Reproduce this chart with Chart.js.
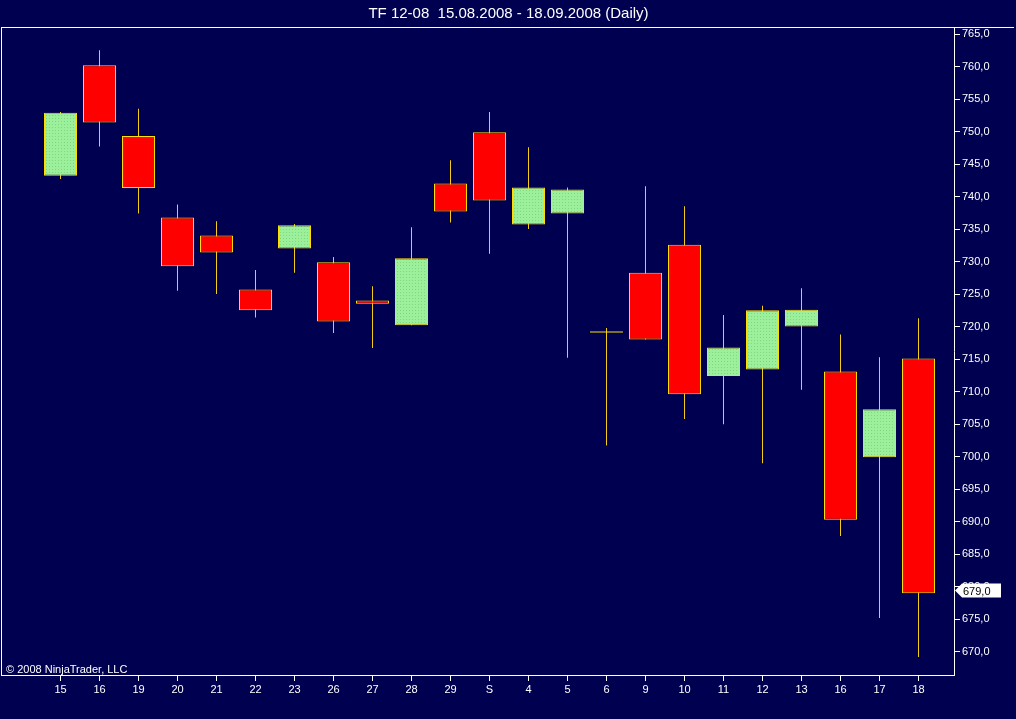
<!DOCTYPE html>
<html>
<head>
<meta charset="utf-8">
<title>TF 12-08 Daily</title>
<script src="https://cdn.jsdelivr.net/npm/chart.js@4"></script>
<style>
  html, body { margin: 0; padding: 0; background: #000050; overflow: hidden; }
  canvas { display: block; }
</style>
</head>
<body>
<canvas id="chart" width="1016" height="719"></canvas>
<script>
const dayLabels = ['15', '16', '19', '20', '21', '22', '23', '26', '27', '28', '29', 'S',
  '4', '5', '6', '9', '10', '11', '12', '13', '16', '17', '18'];
const openVals  = [743.2, 760.2, 749.3, 736.8, 734.0, 725.7, 732.0, 729.9, 724.0, 720.2, 742.0, 749.9,
  735.7, 737.4, 719.1, 728.3, 732.6, 712.4, 713.4, 720.0, 713.1, 699.9, 715.1];
const highVals  = [753.0, 762.5, 753.5, 738.8, 736.2, 728.7, 735.8, 730.7, 726.2, 735.3, 745.6, 753.0,
  747.6, 741.4, 719.8, 741.6, 738.5, 721.8, 723.2, 725.9, 718.8, 715.3, 721.3];
const lowVals   = [742.7, 747.7, 737.4, 725.5, 725.0, 721.4, 728.3, 719.0, 716.7, 720.2, 736.0, 731.2,
  735.0, 715.2, 701.7, 718.0, 705.8, 705.0, 699.0, 710.3, 687.8, 675.2, 669.2];
const closeVals = [752.9, 751.4, 741.3, 729.3, 731.4, 722.5, 735.6, 720.8, 723.5, 730.5, 737.7, 739.4,
  741.4, 741.1, 719.1, 718.0, 709.6, 716.8, 722.5, 722.6, 690.3, 707.3, 679.0];
const yTicks = [670, 675, 680, 685, 690, 695, 700, 705, 710, 715, 720, 725, 730, 735, 740, 745,
  750, 755, 760, 765];

const BG = '#000050';
const WICK = '#f5cc1e';
const EDGE = '#ffdd00';
const DOWN = '#ff0000';
const FONT = 'Liberation Sans, Arial, sans-serif';

// dotted light green fill like the original up-candles
function upPattern() {
  const c = document.createElement('canvas');
  c.width = 3; c.height = 3;
  const g = c.getContext('2d');
  g.fillStyle = '#9cf09c';
  g.fillRect(0, 0, 3, 3);
  g.fillStyle = '#7fd87f';
  g.fillRect(1, 1, 1, 1);
  return g.createPattern(c, 'repeat');
}
const UP = upPattern();

const fmt = v => v.toFixed(1).replace('.', ',');

const bodyColors = openVals.map((o, i) => closeVals[i] > o ? UP : (closeVals[i] < o ? DOWN : EDGE));
const bodyBorders = openVals.map((o, i) => closeVals[i] === o ? 0 : 1);

const decor = {
  id: 'decor',
  beforeDraw(chart) {
    const ctx = chart.ctx;
    ctx.save();
    ctx.fillStyle = BG;
    ctx.fillRect(0, 0, chart.width, chart.height);
    ctx.restore();
  },
  afterDraw(chart) {
    const ctx = chart.ctx;
    const a = chart.chartArea;
    ctx.save();
    ctx.fillStyle = '#ffffff';
    ctx.fillRect(1, a.top, chart.width - 3, 1);
    ctx.fillRect(1, a.top, 1, a.bottom - a.top);

    ctx.font = '11px ' + FONT;
    ctx.textBaseline = 'alphabetic';
    ctx.textAlign = 'left';
    ctx.fillText('\u00a9 2008 NinjaTrader, LLC', 6, a.bottom - 2);

    // last price marker on the price axis
    const last = closeVals[closeVals.length - 1];
    const y = Math.round(chart.scales.y.getPixelForValue(last)) - 2.5;
    const x0 = a.right + 1;
    ctx.beginPath();
    ctx.moveTo(x0, y);
    ctx.lineTo(x0 + 7, y - 7);
    ctx.lineTo(x0 + 46, y - 7);
    ctx.lineTo(x0 + 46, y + 7);
    ctx.lineTo(x0 + 7, y + 7);
    ctx.closePath();
    ctx.fill();
    ctx.fillStyle = '#000000';
    ctx.textBaseline = 'middle';
    ctx.fillText(fmt(last), x0 + 8, y + 1);
    ctx.restore();
  }
};

new Chart(document.getElementById('chart'), {
  type: 'bar',
  data: {
    datasets: [
      {
        label: 'Body',
        data: dayLabels.map((d, i) => ({ x: i, y: [openVals[i], closeVals[i]] })),
        backgroundColor: bodyColors,
        borderColor: EDGE,
        borderWidth: bodyBorders,
        borderSkipped: false,
        barThickness: 33,
        minBarLength: 1,
        inflateAmount: 0,
        grouped: false
      },
      {
        label: 'Wick',
        data: dayLabels.map((d, i) => ({ x: i, y: [lowVals[i], highVals[i]] })),
        backgroundColor: WICK,
        borderWidth: 0,
        barThickness: 1,
        inflateAmount: 0,
        grouped: false
      }
    ]
  },
  options: {
    responsive: false,
    animation: false,
    events: [],
    layout: { padding: { left: 1, right: 0, top: 0, bottom: 0 } },
    plugins: {
      legend: { display: false },
      tooltip: { enabled: false },
      title: {
        display: true,
        text: 'TF 12-08  15.08.2008 - 18.09.2008 (Daily)',
        color: '#ffffff',
        font: { family: FONT, size: 15, weight: 'normal', lineHeight: 1.2 },
        padding: { top: 5, bottom: 4 }
      }
    },
    scales: {
      x: {
        type: 'linear',
        min: -1.5256,
        max: 22.9103,
        offset: false,
        afterBuildTicks: s => { s.ticks = dayLabels.map((d, i) => ({ value: i })); },
        afterFit: s => { s.height = 44; },
        ticks: {
          callback: v => dayLabels[v],
          color: '#ffffff',
          font: { family: FONT, size: 11 },
          padding: 2,
          autoSkip: false,
          maxRotation: 0
        },
        grid: { offset: false, drawOnChartArea: false, tickLength: 6, tickColor: '#ffffff' },
        border: { color: '#ffffff', width: 1 }
      },
      y: {
        type: 'linear',
        position: 'right',
        min: 666.42,
        max: 766.08,
        afterBuildTicks: s => { s.ticks = yTicks.map(v => ({ value: v })); },
        afterFit: s => { s.width = 62; },
        ticks: {
          callback: v => fmt(v),
          color: '#ffffff',
          font: { family: FONT, size: 11 },
          padding: 2
        },
        grid: { drawOnChartArea: false, tickLength: 6, tickColor: '#ffffff' },
        border: { color: '#ffffff', width: 1 }
      }
    }
  },
  plugins: [decor]
});
</script>
</body>
</html>
